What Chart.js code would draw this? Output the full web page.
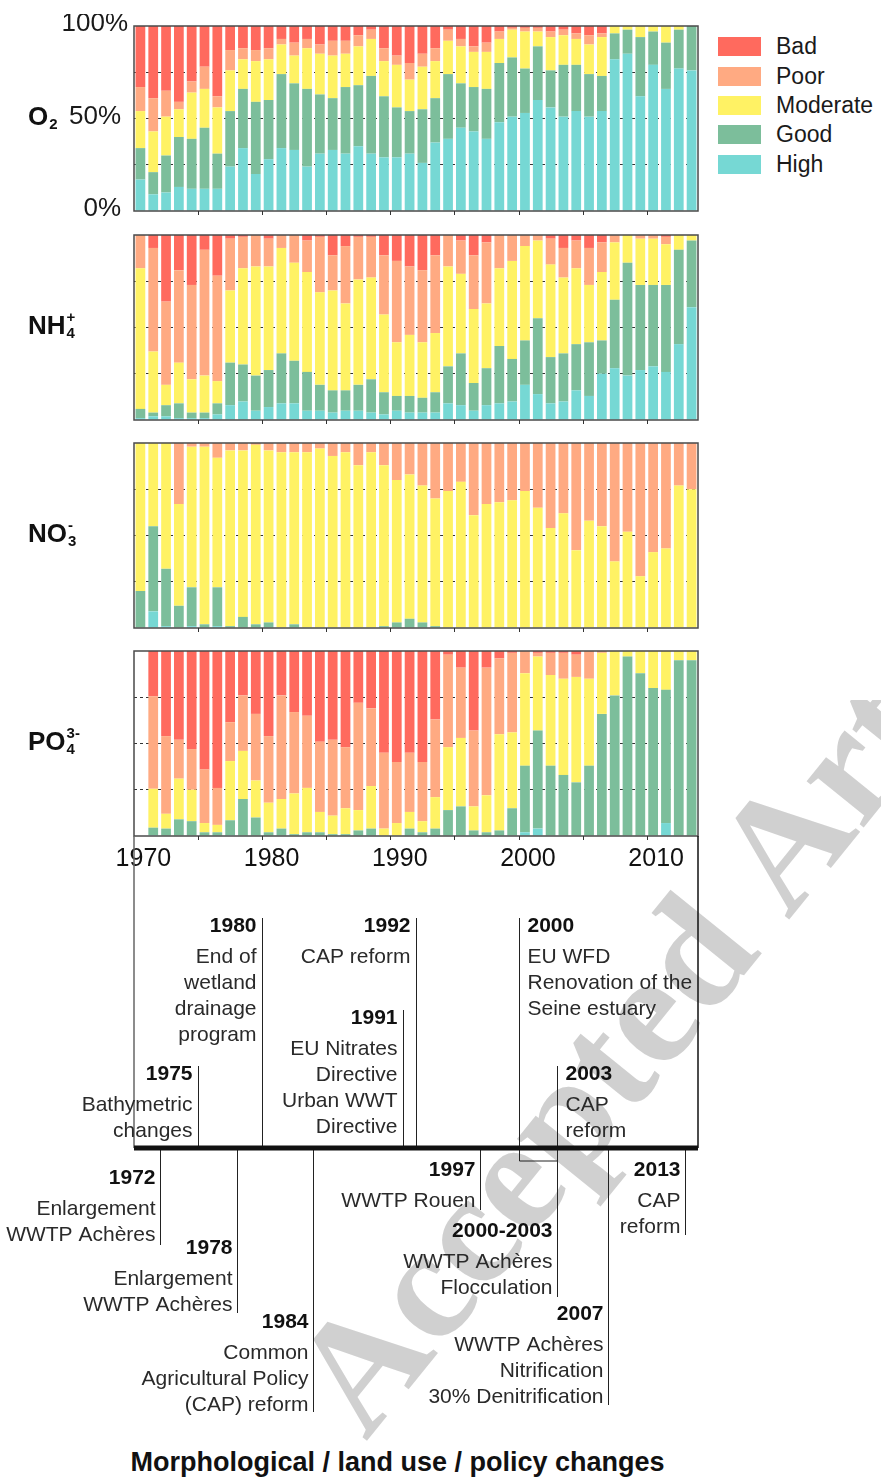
<!DOCTYPE html>
<html>
<head>
<meta charset="utf-8">
<script src="https://cdn.jsdelivr.net/npm/chart.js@4.4.0/dist/chart.umd.min.js"></script>
<style>
  body { margin: 0; background: #fff; width: 881px; height: 1479px; position: relative; overflow: hidden;
         font-family: "Liberation Sans", Arial, sans-serif; }
  canvas { position: absolute; left: 0; }
  #legend { position: absolute; left: 718px; top: 32px; }
  #legend .row { height: 29.4px; display: flex; align-items: center; }
  #legend .sw { width: 43px; height: 19px; margin-right: 15px; }
  #legend .lb { font-size: 23px; color: #1a1a1a; }
  #title { position: absolute; left: 0; width: 795px; top: 1447px; text-align: center;
           font-weight: bold; font-size: 27px; color: #111; }
</style>
</head>
<body>
<div id="legend"></div>
<div id="title">Morphological / land use / policy changes</div>
<script>
// categories
const years = [1970, 1971, 1972, 1973, 1974, 1975, 1976, 1977, 1978, 1979,
               1980, 1981, 1982, 1983, 1984, 1985, 1986, 1987, 1988, 1989,
               1990, 1991, 1992, 1993, 1994, 1995, 1996, 1997, 1998, 1999,
               2000, 2001, 2002, 2003, 2004, 2005, 2006, 2007, 2008, 2009,
               2010, 2011, 2012, 2013];

// classes, stacked bottom -> top
const classes = ['High', 'Good', 'Moderate', 'Poor', 'Bad'];
const classColors = ['#76D8D4', '#7CBE9B', '#FFF264', '#FFAA82', '#FF6A5E'];

// O2 (% of stations)
const o2High = [17, 9, 10, 13, 12, 12, 12, 24, 34, 20, 28, 34, 33, 24, 31, 33, 31, 35, 31, 29, 29, 31, 26, 37, 39, 45, 43, 39, 48, 51, 53, 60, 56, 51, 54, 51, 54, 82, 85, 62, 79, 66, 77, 76];
const o2Good = [17, 12, 20, 27, 27, 33, 19, 30, 32, 39, 32, 40, 36, 42, 32, 28, 36, 33, 42, 33, 27, 23, 29, 24, 35, 24, 24, 27, 32, 32, 24, 29, 20, 28, 25, 23, 19, 14, 13, 32, 18, 25, 21, 24];
const o2Moderate = [20, 22, 21, 15, 25, 21, 25, 22, 16, 22, 22, 16, 15, 22, 22, 23, 18, 21, 20, 19, 23, 17, 23, 20, 18, 20, 19, 20, 13, 15, 20, 8, 18, 16, 14, 16, 21, 4, 2, 6, 3, 9, 2, 0];
const o2Poor = [13, 18, 14, 4, 6, 12, 6, 11, 6, 6, 6, 3, 7, 5, 5, 8, 7, 6, 5, 7, 5, 9, 7, 7, 6, 4, 3, 5, 4, 1, 2, 2, 3, 3, 3, 5, 2, 0, 0, 0, 0, 0, 0, 0];
const o2Bad = [33, 39, 35, 41, 30, 22, 38, 13, 12, 13, 12, 7, 9, 7, 10, 8, 8, 5, 2, 12, 16, 20, 15, 12, 2, 7, 11, 9, 3, 1, 1, 1, 3, 2, 4, 5, 4, 0, 0, 0, 0, 0, 0, 0];

// NH4+
const nh4High = [1, 2, 2, 1, 1, 1, 3, 8, 10, 5, 7, 9, 9, 5, 5, 4, 5, 5, 4, 3, 5, 4, 4, 4, 9, 8, 5, 8, 9, 10, 19, 14, 9, 10, 16, 13, 25, 28, 24, 27, 29, 26, 41, 61];
const nh4Good = [5, 2, 6, 8, 3, 3, 6, 23, 20, 19, 20, 27, 23, 21, 14, 12, 11, 14, 18, 12, 8, 9, 8, 11, 20, 28, 15, 20, 31, 23, 24, 41, 25, 26, 25, 29, 18, 37, 61, 46, 44, 47, 51, 36];
const nh4Moderate = [76, 33, 11, 22, 18, 20, 12, 39, 52, 59, 56, 57, 53, 54, 50, 54, 47, 57, 55, 42, 29, 33, 30, 32, 54, 43, 40, 35, 42, 53, 51, 42, 50, 41, 41, 31, 37, 31, 15, 25, 25, 22, 8, 3];
const nh4Poor = [18, 56, 45, 50, 51, 68, 57, 28, 17, 17, 15, 7, 15, 17, 30, 19, 31, 23, 22, 32, 44, 37, 39, 42, 17, 18, 29, 33, 18, 14, 6, 3, 14, 16, 15, 20, 16, 4, 0, 2, 2, 4, 0, 0];
const nh4Bad = [0, 7, 36, 19, 27, 8, 22, 2, 1, 0, 2, 0, 0, 3, 1, 11, 6, 1, 1, 11, 14, 17, 19, 11, 0, 3, 11, 4, 0, 0, 0, 0, 2, 7, 3, 7, 4, 0, 0, 0, 0, 1, 0, 0];

// NO3-
const no3High = [0, 9, 1, 0, 1, 0, 1, 0, 0, 0, 0, 0, 0, 0, 0, 0, 0, 0, 0, 0, 0, 0, 0, 0, 0, 0, 0, 0, 0, 0, 0, 0, 0, 0, 0, 0, 0, 0, 0, 0, 0, 0, 0, 0];
const no3Good = [20, 46, 31, 12, 21, 2, 21, 1, 6, 2, 3, 0, 2, 0, 0, 0, 0, 0, 0, 1, 3, 5, 3, 1, 0, 0, 0, 0, 0, 0, 0, 0, 0, 0, 0, 0, 0, 0, 0, 0, 0, 0, 0, 0];
const no3Moderate = [80, 45, 68, 55, 76, 96, 70, 95, 90, 97, 93, 95, 93, 95, 97, 93, 95, 88, 95, 87, 77, 78, 74, 69, 74, 79, 61, 67, 68, 69, 74, 65, 54, 62, 42, 58, 55, 36, 52, 28, 41, 43, 77, 75];
const no3Poor = [0, 0, 0, 33, 2, 2, 8, 4, 4, 1, 4, 5, 5, 5, 3, 7, 5, 12, 5, 12, 20, 17, 23, 30, 26, 21, 39, 33, 32, 31, 26, 35, 46, 38, 58, 42, 45, 64, 48, 72, 59, 57, 23, 25];
const no3Bad = [0, 0, 0, 0, 0, 0, 0, 0, 0, 0, 0, 0, 0, 0, 0, 0, 0, 0, 0, 0, 0, 0, 0, 0, 0, 0, 0, 0, 0, 0, 0, 0, 0, 0, 0, 0, 0, 0, 0, 0, 0, 0, 0, 0];

// PO4 3- (no data in 1970)
const po4High = [0, 0.5, 0, 0, 0, 0, 0, 0.5, 0, 0, 0, 0, 0, 0, 0, 0, 0, 0, 0, 0, 0, 0, 0, 0, 0, 0, 0, 0, 0, 0, 2, 4, 0, 0, 0, 0, 0, 0, 0, 0, 0, 7, 0, 0];
const po4Good = [0, 4, 4, 9, 8, 2, 2, 8, 20, 10, 2, 4, 1, 2, 2, 1, 1, 3, 4, 0, 0, 4, 2, 4, 14, 16, 3, 2, 3, 15, 36, 53, 38, 33, 29, 38, 66, 76, 97, 88, 80, 72, 95, 95];
const po4Moderate = [0, 21, 8, 22, 17, 5, 4, 32, 26, 20, 16, 16, 22, 24, 11, 10, 14, 11, 23, 4, 7, 9, 6, 17, 34, 37, 13, 20, 52, 41, 50, 40, 49, 52, 57, 47, 33, 24, 3, 12, 20, 21, 5, 5];
const po4Poor = [0, 50, 42, 21, 22, 29, 20, 21, 30, 36, 36, 56, 44, 39, 38, 41, 33, 58, 42, 41, 33, 32, 32, 42, 50, 38, 41, 69, 41, 43, 12, 2, 12, 14, 12, 15, 1, 0, 0, 0, 0, 0, 0, 0];
const po4Bad = [0, 24.5, 46, 48, 53, 64, 74, 38.5, 24, 34, 46, 24, 33, 35, 49, 48, 52, 28, 31, 55, 60, 55, 60, 37, 2, 9, 43, 9, 4, 1, 0, 1, 1, 1, 2, 0, 0, 0, 0, 0, 0, 0, 0, 0];

// y tick labels (first panel only)
const yTickValues = [100, 50, 0];
const yTickLabels = ['100%', '50%', '0%'];

// timeline events above the bar
const upYears = [1975, 1980, 1991, 1992, 2000, 2003];
const upTitles = ['1975', '1980', '1991', '1992', '2000', '2003'];
const upText = [
  [['Bathymetric', 'changes']],
  [['End of', 'wetland', 'drainage', 'program']],
  [['EU Nitrates', 'Directive'], ['Urban WWT', 'Directive']],
  [['CAP reform']],
  [['EU WFD'], ['Renovation of the', 'Seine estuary']],
  [['CAP', 'reform']]
];
// timeline events below the bar
const downYears = [1972, 1978, 1984, 1997, 2003, 2007, 2013];
const downStart = [null, null, null, null, 2000, null, null];
const downTitles = ['1972', '1978', '1984', '1997', '2000-2003', '2007', '2013'];
const downText = [
  [['Enlargement', 'WWTP Achères']],
  [['Enlargement', 'WWTP Achères']],
  [['Common', 'Agricultural Policy', '(CAP) reform']],
  [['WWTP Rouen']],
  [['WWTP Achères', 'Flocculation']],
  [['WWTP Achères', 'Nitrification', '30% Denitrification']],
  [['CAP', 'reform']]
];

// ---- layout (page pixels) ----
const FONT = '"Liberation Sans", Arial, sans-serif';
const PLOT_LEFT = 134, PLOT_RIGHT = 698, PLOT_H = 185, PAD_T = 12, PAD_B = 12;
const panelTops = [26, 235, 443, 651];
const upLineTop = [1066, 918, 1010, 918, 918, 1066];
const upSide = ['left', 'left', 'left', 'left', 'right', 'right'];
const downLineEnd = [1245, 1313, 1412, 1210, 1297, 1405, 1235];
const downTextTop = [1178, 1248, 1322, 1170, 1231, 1314, 1170];
const BAR_Y = 1148, BRACKET_Y = 1161, TL_TOP = 700;

// legend (top to bottom: Bad ... High)
const legend = document.getElementById('legend');
for (let k = classes.length - 1; k >= 0; k--) {
  const row = document.createElement('div');
  row.className = 'row';
  row.innerHTML = '<div class="sw" style="background:' + classColors[k] + '"></div><div class="lb">' + classes[k] + '</div>';
  legend.appendChild(row);
}

const panels = [
  { name: ['O', '2', ''], series: [o2High, o2Good, o2Moderate, o2Poor, o2Bad], yLabels: true, xLabels: false },
  { name: ['NH', '4', '+'], series: [nh4High, nh4Good, nh4Moderate, nh4Poor, nh4Bad], yLabels: false, xLabels: false },
  { name: ['NO', '3', '-'], series: [no3High, no3Good, no3Moderate, no3Poor, no3Bad], yLabels: false, xLabels: false },
  { name: ['PO', '4', '3-'], series: [po4High, po4Good, po4Moderate, po4Poor, po4Bad], yLabels: false, xLabels: true }
];

// frame, 5-year ticks, panel name and % labels
const panelDeco = {
  id: 'panelDeco',
  afterDatasetsDraw(chart, args, opts) {
    const { ctx, chartArea: a, scales: { x, y } } = chart;
    ctx.save();
    ctx.strokeStyle = '#4a4a4a';
    ctx.lineWidth = 1.5;
    ctx.strokeRect(a.left, a.top, a.right - a.left, a.bottom - a.top);
    ctx.lineWidth = 1;
    ctx.strokeStyle = '#333';
    years.forEach((yr, i) => {
      if (i > 0 && yr % 5 === 0) {
        const px = Math.round((x.getPixelForValue(i - 1) + x.getPixelForValue(i)) / 2) + 0.5;
        ctx.beginPath();
        ctx.moveTo(px, a.bottom);
        ctx.lineTo(px, a.bottom + 4);
        ctx.stroke();
      }
    });
    const mid = y.getPixelForValue(50);
    ctx.fillStyle = '#111';
    ctx.textAlign = 'left';
    ctx.textBaseline = 'alphabetic';
    ctx.font = 'bold 26px ' + FONT;
    ctx.fillText(opts.name[0], 28, mid + 6);
    const w = ctx.measureText(opts.name[0]).width;
    ctx.font = 'bold 15px ' + FONT;
    if (opts.name[1]) ctx.fillText(opts.name[1], 28 + w + 1, mid + 10);
    if (opts.name[2]) ctx.fillText(opts.name[2], 28 + w + 1, mid - 6);
    if (opts.yLabels) {
      ctx.font = '26px ' + FONT;
      ctx.textAlign = 'right';
      ctx.textBaseline = 'middle';
      ctx.fillStyle = '#1a1a1a';
      yTickValues.forEach((v, i) => {
        ctx.fillText(yTickLabels[i], v === 100 ? 128 : 121, y.getPixelForValue(v) - 2);
      });
    }
    ctx.restore();
  }
};

panels.forEach((p, idx) => {
  const top = panelTops[idx];
  const cv = document.createElement('canvas');
  const bottomExtra = p.xLabels ? 48 : PAD_B;
  cv.width = 881;
  cv.height = PAD_T + PLOT_H + bottomExtra;
  cv.style.top = (top - PAD_T) + 'px';
  document.body.appendChild(cv);
  new Chart(cv, {
    type: 'bar',
    data: {
      labels: years,
      datasets: classes.map((c, k) => ({
        label: c,
        data: p.series[k],
        backgroundColor: classColors[k],
        borderWidth: 0,
        barPercentage: 0.76,
        categoryPercentage: 1
      }))
    },
    options: {
      responsive: false,
      animation: false,
      layout: { padding: { left: PLOT_LEFT, right: 881 - PLOT_RIGHT, top: PAD_T, bottom: p.xLabels ? 8 : PAD_B } },
      plugins: {
        legend: { display: false },
        tooltip: { enabled: false },
        panelDeco: { name: p.name, yLabels: p.yLabels }
      },
      scales: {
        x: {
          stacked: true,
          offset: true,
          grid: { display: false, drawTicks: false },
          border: { display: false },
          ticks: {
            display: p.xLabels,
            autoSkip: false,
            maxRotation: 0,
            padding: 8,
            labelOffset: 3,
            color: '#111',
            font: { size: 25, family: FONT },
            callback: (v, i) => (years[i] % 10 === 0 ? String(years[i]) : '')
          },
          afterFit: (s) => { s.height = p.xLabels ? 40 : 0; }
        },
        y: {
          stacked: true,
          min: 0,
          max: 100,
          ticks: { display: false, stepSize: 25 },
          grid: {
            drawTicks: false,
            lineWidth: 1,
            color: (c) => (c.tick && c.tick.value > 0 && c.tick.value < 100 ? '#333' : 'rgba(0,0,0,0)')
          },
          border: { display: false, dash: [3, 3] },
          afterFit: (s) => { s.width = 0; }
        }
      }
    },
    plugins: [panelDeco]
  });
});

// ---- timeline ----
const timelineDeco = {
  id: 'timelineDeco',
  beforeDraw(chart) {
    // watermark
    const ctx = chart.ctx;
    ctx.save();
    ctx.translate(366, 1442 - TL_TOP);
    ctx.rotate(-51 * Math.PI / 180);
    ctx.font = 'bold 160px "Liberation Serif", "DejaVu Serif", serif';
    ctx.fillStyle = 'rgba(170,170,170,0.55)';
    ctx.textBaseline = 'alphabetic';
    ctx.fillText('Accepted Article', 0, 0);
    ctx.restore();
  },
  afterDraw(chart) {
    const { ctx, scales: { x } } = chart;
    const Y = (v) => v - TL_TOP;
    const px = (yr) => Math.round(x.getPixelForValue(yr)) + 0.5;
    ctx.save();
    // side lines joining the plots
    ctx.lineWidth = 1.5;
    ctx.strokeStyle = '#666';
    ctx.beginPath(); ctx.moveTo(x.left, Y(836)); ctx.lineTo(x.left, Y(BAR_Y)); ctx.stroke();
    ctx.strokeStyle = '#111';
    ctx.beginPath(); ctx.moveTo(x.right, Y(836)); ctx.lineTo(x.right, Y(BAR_Y)); ctx.stroke();

    const drawBlock = (title, groups, xx, y0, align) => {
      ctx.textAlign = align;
      ctx.textBaseline = 'middle';
      ctx.fillStyle = '#111';
      ctx.font = 'bold 21px ' + FONT;
      ctx.fillText(title, xx, Y(y0));
      let yy = y0 + 5;
      ctx.font = '21px ' + FONT;
      ctx.fillStyle = '#2a2a2a';
      groups.forEach((g) => {
        yy += 26;
        g.forEach((line, j) => {
          if (j > 0) yy += 26;
          ctx.fillText(line, xx, Y(yy));
        });
      });
    };

    ctx.lineWidth = 1;
    ctx.strokeStyle = '#222';
    upYears.forEach((yr, i) => {
      const lx = px(yr);
      ctx.beginPath(); ctx.moveTo(lx, Y(upLineTop[i])); ctx.lineTo(lx, Y(BAR_Y)); ctx.stroke();
      const left = upSide[i] === 'left';
      drawBlock(upTitles[i], upText[i], left ? lx - 6 : lx + 8, upLineTop[i] + 8, left ? 'right' : 'left');
    });
    downYears.forEach((yr, i) => {
      const lx = px(yr);
      ctx.beginPath(); ctx.moveTo(lx, Y(BAR_Y)); ctx.lineTo(lx, Y(downLineEnd[i])); ctx.stroke();
      if (downStart[i] !== null) {
        const sx = px(downStart[i]);
        ctx.beginPath();
        ctx.moveTo(sx, Y(BAR_Y)); ctx.lineTo(sx, Y(BRACKET_Y)); ctx.lineTo(lx, Y(BRACKET_Y));
        ctx.stroke();
      }
      drawBlock(downTitles[i], downText[i], lx - 5, downTextTop[i], 'right');
    });
    // main bar
    ctx.fillStyle = '#111';
    ctx.fillRect(x.left, Y(BAR_Y) - 2.5, x.right - x.left, 5);
    ctx.restore();
  }
};

const tl = document.createElement('canvas');
tl.width = 881;
tl.height = 1479 - TL_TOP;
tl.style.top = TL_TOP + 'px';
document.body.appendChild(tl);
new Chart(tl, {
  type: 'scatter',
  data: { datasets: [] },
  options: {
    responsive: false,
    animation: false,
    layout: { padding: { left: PLOT_LEFT, right: 881 - PLOT_RIGHT, top: 0, bottom: 0 } },
    plugins: { legend: { display: false }, tooltip: { enabled: false } },
    scales: {
      x: { type: 'linear', min: 1970, max: 2014, display: false },
      y: { min: 0, max: 1, display: false }
    }
  },
  plugins: [timelineDeco]
});
</script>
</body>
</html>
